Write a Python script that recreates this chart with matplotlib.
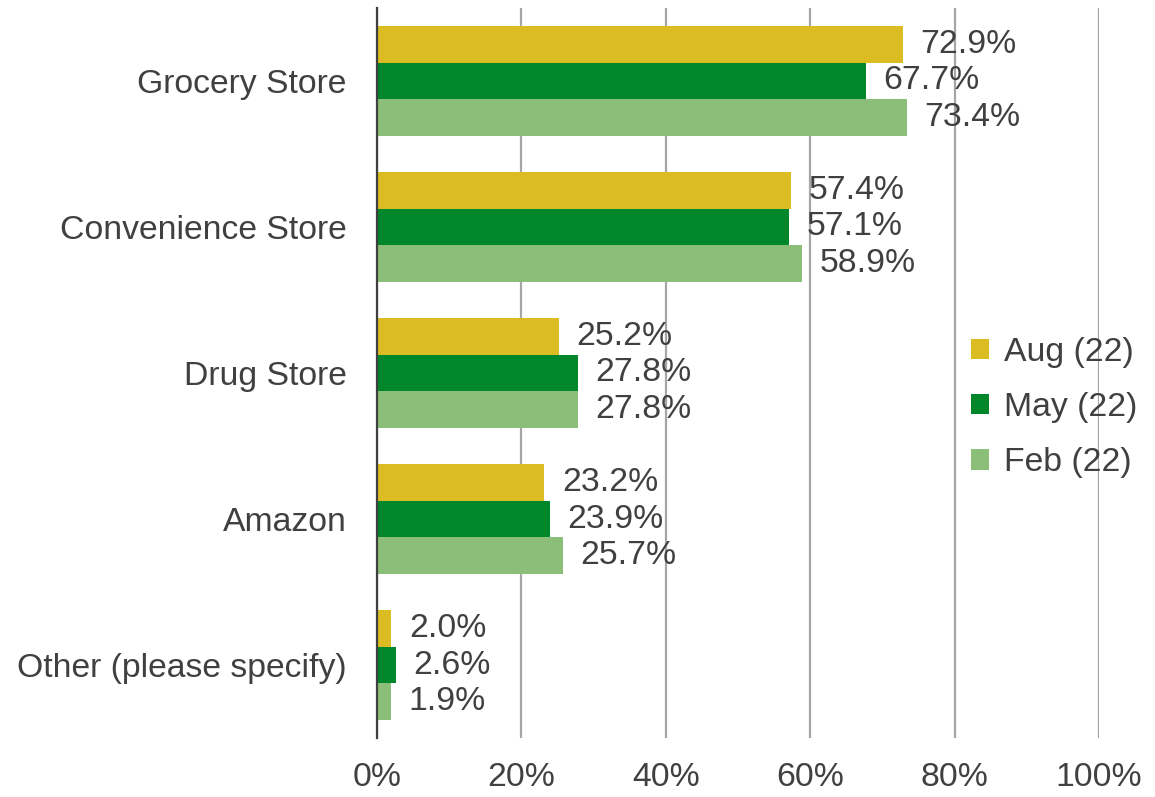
import matplotlib

matplotlib.use("Agg")
import matplotlib.pyplot as plt
import numpy as np

categories = [
    "Grocery Store",
    "Convenience Store",
    "Drug Store",
    "Amazon",
    "Other (please specify)",
]
series_names = ["Aug (22)", "May (22)", "Feb (22)"]
aug = [72.9, 57.4, 25.2, 23.2, 2.0]
may = [67.7, 57.1, 27.8, 23.9, 2.6]
feb = [73.4, 58.9, 27.8, 25.7, 1.9]
x_ticks = [0, 20, 40, 60, 80, 100]

colors = ["#dbbd23", "#00872b", "#8bbe78"]
text_color = "#404040"
fs = 24.3

plt.rcParams["font.family"] = ["Liberation Sans", "DejaVu Sans"]

fig = plt.figure(figsize=(11.55, 7.97), dpi=100)
ax = fig.add_axes([0.3264, 0.074, 0.6251, 0.916])

y = np.arange(len(categories))
h = 0.25
for vals, name, col, off in zip([aug, may, feb], series_names, colors, [-h, 0, h]):
    bars = ax.barh(y + off, vals, height=h, color=col, label=name, zorder=2)
    for b, v in zip(bars, vals):
        ax.text(
            b.get_width() + 2.4, b.get_y() + b.get_height() / 2, f"{v:.1f}%",
            va="center", ha="left", fontsize=fs, color=text_color, zorder=3,
        )

ax.set_xlim(0, 100)
ax.set_ylim(len(categories) - 0.5, -0.5)
ax.set_xticks(x_ticks)
ax.set_xticklabels([f"{t}%" for t in x_ticks])
ax.set_yticks(y)
ax.set_yticklabels(categories)
ax.tick_params(axis="both", length=0, labelsize=fs, labelcolor=text_color)
ax.tick_params(axis="x", pad=17)
ax.tick_params(axis="y", pad=22)

ax.grid(axis="x", color="#a6a6a6", linewidth=1.6, zorder=1)
ax.set_axisbelow(True)
for s in ["top", "right", "bottom"]:
    ax.spines[s].set_visible(False)
ax.spines["left"].set_color("#404040")
ax.spines["left"].set_linewidth(1.6)
ax.spines["left"].set_zorder(4)

leg = ax.legend(
    loc="center left", bbox_to_anchor=(0.78, 0.4525), frameon=False,
    fontsize=fs, handlelength=0.55, handleheight=0.55, handletextpad=0.45,
    labelspacing=0.72, labelcolor=text_color,
)

fig.savefig("out.png", dpi=100)
